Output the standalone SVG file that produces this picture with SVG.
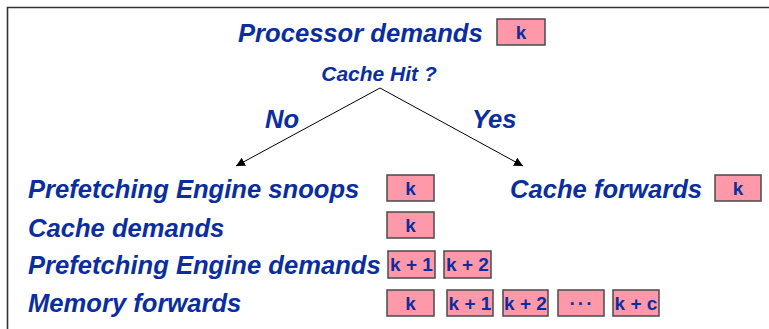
<svg xmlns="http://www.w3.org/2000/svg" width="769" height="329" viewBox="0 0 769 329">
<defs>
<style>
.t{font-family:"Liberation Sans",Arial,sans-serif;font-weight:bold;font-style:italic;fill:#0B2E9E;font-size:25.6px}
.q{font-size:21px}
.b{fill:#FF99AA;stroke:#4A4A4A;stroke-width:1.5}
.bt{font-family:"Liberation Sans",Arial,sans-serif;font-weight:bold;fill:#0B2E9E;font-size:19px;text-anchor:middle}
.c{stroke:#000;stroke-width:1;fill:none;marker-end:url(#ah)}
.frame{stroke:#333;stroke-width:1.6;fill:none}
</style>
<marker id="ah" viewBox="0 0 10 10" refX="10" refY="5" markerWidth="9" markerHeight="9" markerUnits="userSpaceOnUse" orient="auto">
<path d="M0,0 L10,5 L0,10 z" fill="#000"/>
</marker>
</defs>
<rect width="769" height="329" fill="#fff"/>
<path class="frame" d="M7.5,329 V7.5 H769"/>

<g id="processor">
<text class="t" x="238" y="42">Processor demands</text>
<rect class="b" x="497" y="19" width="48" height="26"/>
<text class="bt" x="521" y="39">k</text>
</g>

<g id="cachehit">
<text class="t q" x="379" y="81" text-anchor="middle">Cache Hit ?</text>
</g>

<g id="connectors">
<line class="c" x1="380" y1="88" x2="236" y2="166"/>
<line class="c" x1="380" y1="88" x2="523" y2="166"/>
<text class="t" x="265" y="128">No</text>
<text class="t" x="472" y="128">Yes</text>
</g>

<g id="miss">
<text class="t" x="28" y="198">Prefetching Engine snoops</text>
<rect class="b" x="387" y="175" width="47" height="26"/>
<text class="bt" x="410.5" y="195">k</text>

<text class="t" x="28" y="237">Cache demands</text>
<rect class="b" x="387" y="212" width="47" height="26"/>
<text class="bt" x="410.5" y="232">k</text>

<text class="t" x="28" y="274">Prefetching Engine demands</text>
<rect class="b" x="388" y="251" width="47" height="27"/>
<text class="bt" x="411.5" y="271">k + 1</text>
<rect class="b" x="444" y="251" width="47" height="27"/>
<text class="bt" x="467.5" y="271">k + 2</text>

<text class="t" x="28" y="312">Memory forwards</text>
<rect class="b" x="387" y="290" width="47" height="26"/>
<text class="bt" x="410.5" y="310">k</text>
<rect class="b" x="447" y="290" width="46" height="26"/>
<text class="bt" x="470" y="310">k + 1</text>
<rect class="b" x="503" y="290" width="45" height="26"/>
<text class="bt" x="525.5" y="310">k + 2</text>
<rect class="b" x="558" y="290" width="46" height="26"/>
<text class="bt" x="582" y="310" font-size="24" letter-spacing="2">···</text>
<rect class="b" x="613" y="290" width="46" height="26"/>
<text class="bt" x="636" y="310">k + c</text>
</g>

<g id="hit">
<text class="t" x="510" y="198">Cache forwards</text>
<rect class="b" x="715" y="175" width="46" height="26"/>
<text class="bt" x="738" y="195">k</text>
</g>
</svg>
